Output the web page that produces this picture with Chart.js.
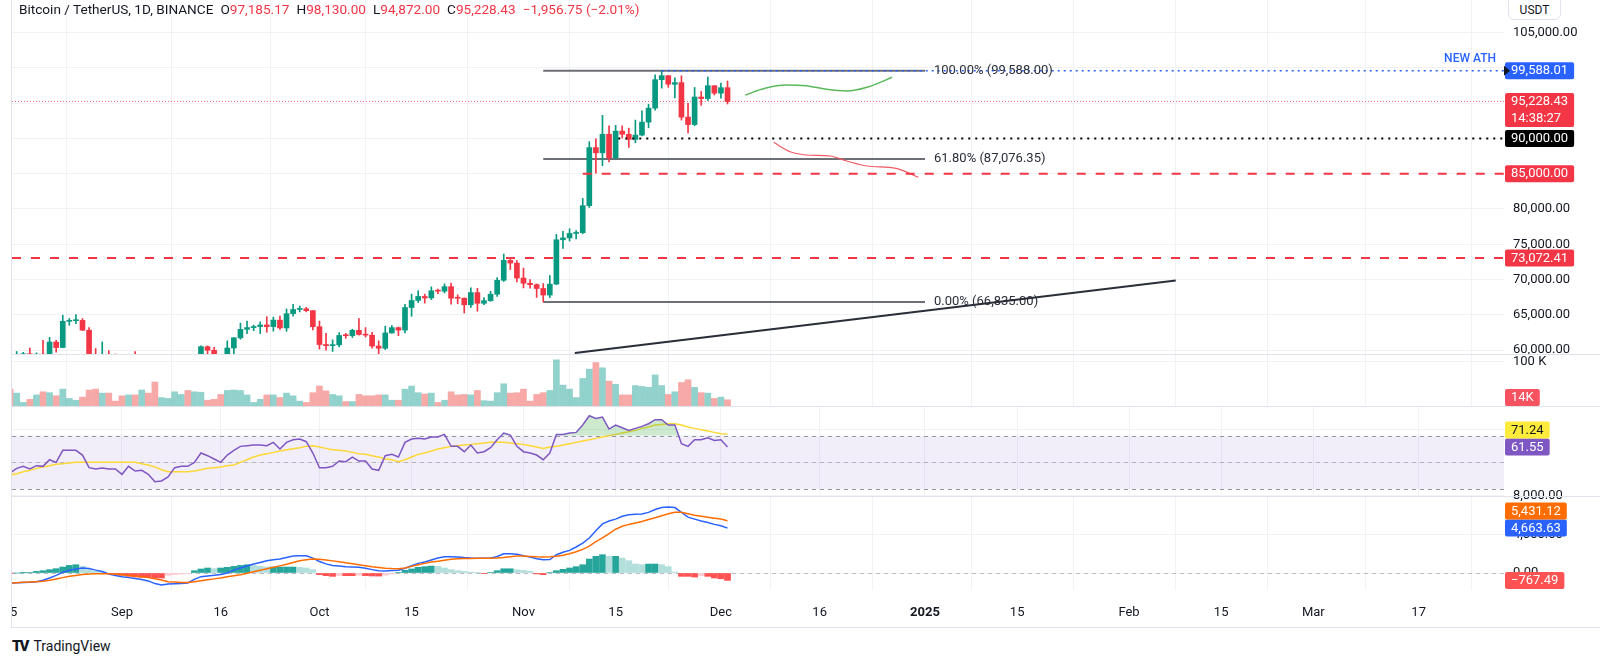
<!DOCTYPE html>
<html>
<head>
<meta charset="utf-8">
<title>BTCUSDT 1D</title>
<script src="https://cdn.jsdelivr.net/npm/chart.js@4.4.1/dist/chart.umd.min.js"></script>
<style>
  html, body { margin: 0; padding: 0; background: #fff; }
  body { position: relative; width: 1600px; height: 665px; overflow: hidden;
         font-family: Roboto, "Noto Sans", sans-serif; color: #131722; }
  canvas { position: absolute; left: 12px; }
  .sep { position: absolute; left: 12px; width: 1588px; height: 1px; background: #e0e3eb; z-index: 3; }
  #frame { position: absolute; left: 11px; top: 0; width: 1589px; height: 628px;
           border-left: 1px solid #e0e3eb; border-bottom: 1px solid #e0e3eb; box-sizing: border-box; }
  #header { position: absolute; left: 19px; top: 1px; font-size: 13.6px; line-height: 16px; white-space: nowrap; z-index: 5; }
  #header .v { color: #f23645; }
  #header span { margin-right: 7px; }
  #header span span { margin-right: 0; }
  #unit { position: absolute; left: 1508px; top: -1px; width: 53px; height: 21px; border: 1px solid #e0e3eb;
          border-radius: 0 0 6px 6px; font-size: 12px; line-height: 20px; text-align: center; background: #fff;
          z-index: 5; box-sizing: border-box; }
  #logo { position: absolute; left: 12px; top: 638px; font-size: 14px; line-height: 16px; display: flex; align-items: center; }
  #logo b { font-weight: 900; font-size: 15px; letter-spacing: -2px; margin-right: 6px; }
</style>
</head>
<body>
<div id="frame"></div>
<canvas id="priceCanvas" width="1588" height="354" style="top:0"></canvas>
<canvas id="volumeCanvas" width="1588" height="52" style="top:354px"></canvas>
<canvas id="rsiCanvas" width="1588" height="90" style="top:406px"></canvas>
<canvas id="macdCanvas" width="1588" height="141" style="top:486px"></canvas>
<div class="sep" style="top:354px"></div>
<div class="sep" style="top:406px"></div>
<div class="sep" style="top:496px"></div>
<div id="header"></div>
<div id="unit">USDT</div>
<div id="logo"><b>TV</b>TradingView</div>

<script>
// daily candles, 15 Aug 2024 .. 2 Dec 2024
const openPrices = [
  58683,57541,58874,59491,58427,59438,59013,61157,60381,64094,64178,64220,62834,59415,59034,59359,59123,
  58974,57301,59132,57487,57970,56180,53962,54160,54869,57042,57635,57338,58132,60498,59993,59132,58213,60309,61759,62947,
  63201,63348,63578,63339,64262,63152,65173,65769,65858,65602,
  63327,60804,60649,60752,62086,62058,62819,62224,62134,60582,60275,62445,63193,62851,66046,67041,67612,67399,68418,68362,
  69001,67367,67361,66432,68161,66642,67014,67930,69907,72720,72339,
  70216,69482,69289,68742,67811,69359,75640,75905,76538,76649,80475,88701,87955,90587,87250,91032,90587,89855,90465,92310,
  94286,98317,98892,97672,97901,93010,91965,95864,95644,97461,
  96407,97185.17
];
const highPrices = [
  59849,59817,59700,60284,59617,61400,61820,61400,64955,64494,65050,64481,63212,60235,61166,59944,59462,
  59076,59425,59809,58520,58327,57008,54850,55317,58088,58044,57981,58588,60625,60610,60395,59210,61320,61786,63850,64133,
  63559,64000,64745,64688,64817,65839,66498,66260,66076,65618,
  64130,62390,61470,62484,62370,62975,64478,63200,62543,61320,63417,63480,63285,66500,67950,68424,67939,68969,68668,69400,
  69500,67836,67425,68850,68772,67454,68332,70270,73620,72985,72700,
  71632,70000,69387,69433,70577,76400,76849,77199,76932,81500,89530,89956,93265,91765,91850,91779,91449,92594,93905,94831,
  98988,99588,98900,98564,98871,94973,97208,96650,98694,97463,
  97836,98130.00
];
const lowPrices = [
  56078,57098,58785,58408,57787,58548,58783,59724,60345,63531,63775,62800,58034,57860,58713,57700,58744,
  57201,57128,57415,55606,55643,52550,53745,53629,54591,56386,55545,57324,57632,59400,58692,57493,57610,59174,61555,62350,
  62758,62357,62538,62700,62947,62670,64819,65422,65432,62856,
  60164,60000,59828,60460,61689,61798,62128,61860,60300,58946,60088,62400,62050,62442,64800,66750,66666,67177,68020,68100,
  66518,66571,65260,66048,65521,66439,66913,67618,69730,71436,69685,
  68820,68788,67478,66835,67458,69298,74416,75466,75773,76492,80216,85072,86127,86668,87092,90057,88723,89376,90357,91500,
  94004,97122,97232,95734,92600,90791,91792,94677,95368,96150,
  95693,94872.00
];
const closePrices = [
  57541,58874,59491,58427,59438,59013,61157,60381,64094,64178,64220,62834,59415,59034,59359,59123,58974,
  57301,59132,57487,57970,56180,53962,54160,54869,57042,57635,57338,58132,60498,59993,59132,58213,60309,61759,62947,63201,
  63348,63578,63339,64262,63152,65173,65769,65858,65602,63327,
  60804,60649,60752,62086,62058,62819,62224,62134,60582,60275,62445,63193,62851,66046,67041,67612,67399,68418,68362,69001,
  67367,67361,66432,68161,66642,67014,67930,69907,72720,72339,70216,
  69482,69289,68742,67811,69359,75640,75905,76538,76649,80475,88701,87955,90587,87250,91032,90587,89855,90465,92310,94286,
  98317,98892,97672,97901,93010,91965,95864,95644,97461,96407,
  97185.18,95228.43
];
// volume in thousands of BTC
const volumes = [
  38,29,8,15,25,32,30,23,38,17,13,20,36,38,29,29,11,
  23,25,25,36,29,54,19,17,32,26,35,32,31,13,15,26,35,36,35,25,8,15,25,25,19,29,23,11,8,30,
  45,34,26,23,10,10,26,23,23,25,25,13,13,38,45,30,27,29,8,13,32,25,26,25,35,12,11,30,50,29,30,
  38,11,26,30,35,104,47,38,19,62,83,98,86,56,49,25,25,46,44,42,70,46,26,32,53,59,42,30,29,17,
  20,14
];
const rsiValues = [
  42,45.5,47,45,47.5,47,52,50,59,59,59,55.5,46,45,45.8,45,45,
  41,47,43.5,44,41,35.5,36,39,46,47,47,50,57,55,52.5,50,55.5,59,62,62.5,63,63,62.5,65,60,65,67,67.5,65.5,57,
  46,46,47,51,50.5,54,51,51,45,44,55,56,54,65,67.5,68,67.5,69,69,71,62,62,58,63,57,58,61,67,72,70.5,62,
  58,57,55.5,52,57,71,71,72,72.5,78,85,83,84,75,78,76,74,75.5,77,79,82,82,78,78,64,62,67,67,68.5,66.5,
  67,61.55
];
const rsiMaValues = [
  40.5,41.5,43,44,45.5,46.5,47.5,48.5,49,49.5,50,50,50,50,50,50,50,50,50,50,
  49,48,46.5,44.5,43,43,43,43,43.5,44.5,45.5,46,46.5,47.5,48,50,52,54,55.5,56.5,
  57.5,58.5,59.5,60.3,61,62,62.5,61.5,60.5,59.5,59,58.5,57.5,56.5,56,55,54,52.5,52,50.5,
  52,54,56,57,58.5,60,61,62,62.5,63,63.5,64,64.5,65,65,65,64.5,64,63.5,62.5,
  61.5,60.5,61.5,62,63,64,65,66,67,68,69,70,71,72,73,74,75.5,76.5,78,78.5,
  79,79,78,76.5,75.5,74.5,73.5,72.5,71.5,71.24
];
const macdValues = [
  -1037,-1010,-980,-950,-900,-750,-520,-250,60,280,420,510,470,300,150,-100,-250,-400,-480,-580,
  -680,-820,-1100,-1250,-1150,-1120,-1080,-1030,-660,-380,-300,-240,-150,0,300,520,720,930,1100,1280,
  1380,1450,1600,1760,1790,1780,1550,1200,950,780,730,660,630,590,500,350,230,210,250,280,
  500,760,1000,1150,1350,1550,1690,1680,1660,1600,1560,1540,1520,1530,1720,2000,2000,1950,1800,1650,
  1480,1380,1400,1900,2150,2350,2700,3100,3630,4400,5100,5400,5600,5900,6050,6100,6120,6300,6600,6810,
  6845,6800,6300,5800,5600,5400,5250,5050,4900,4663.63
];
const signalValues = [
  -1037,-1000,-965,-930,-900,-864,-760,-620,-480,-346,-250,-160,-110,-80,-70,-69,-120,-180,-250,-320,
  -380,-480,-590,-720,-900,-940,-980,-990,-900,-795,-700,-610,-519,-400,-290,-173,-30,130,290,440,
  590,740,900,1100,1280,1380,1450,1430,1350,1260,1160,1060,970,860,760,640,560,490,455,450,
  520,690,850,1000,1150,1220,1320,1420,1480,1500,1510,1520,1525,1530,1560,1620,1700,1760,1760,1720,
  1680,1660,1680,1730,1850,2000,2200,2450,2800,3250,3650,4100,4550,4850,5050,5200,5350,5550,5750,5950,
  6150,6320,6300,6150,6000,5900,5800,5700,5600,5431.12
];
const histValues = [
  -20,0,20,60,170,240,345,450,620,790,860,690,350,170,100,-50,-100,-240,-350,-415,
  -450,-480,-520,-520,-250,-170,-100,-40,240,415,520,450,520,590,690,790,860,790,690,620,
  620,620,620,620,580,520,350,-170,-280,-350,-280,-280,-280,-240,-280,-310,-320,-240,-100,60,
  280,420,590,660,720,690,520,350,240,170,100,40,-40,60,240,440,440,340,270,170,
  -100,-170,50,240,380,520,660,860,1450,1730,1900,1730,1730,1550,1280,930,860,930,930,860,
  660,100,-350,-350,-420,-280,-350,-520,-600,-767.49
];

// time scale: day 0 = 15 Aug 2024
const xTickDays = [0, 17, 32, 47, 61, 78, 92, 108, 123, 139, 153, 170, 184, 198, 214];
const xTickLabels = ['15', 'Sep', '16', 'Oct', '15', 'Nov', '15', 'Dec', '16', '2025', '15', 'Feb', '15', 'Mar', '17'];
const xMin = 0.29, xMax = 226.97;

const priceTicks = [60000, 65000, 70000, 75000, 80000, 85000, 90000, 95000, 100000, 105000];
const priceMin = 59462, priceMax = 109603;

// drawings
const athValue = 99588.01, athDay = 99;
const lastPrice = 95228.43, countdown = '14:38:27';
const supportValue = 90000, supportDay = 92.4;
const level85Value = 85000, level85Day = 87;
const level73Value = 73072.41;
const fibValues = [99588.00, 87076.35, 66835.00];
const fibPercents = ['100.00%', '61.80%', '0.00%'];
const fibStartDay = 81, fibEndDay = 139;
const trendDays = [85.8, 177.1];
const trendPrices = [59600, 69860];
const greenPathDays = [111.7, 114.7, 117.8, 120.9, 124, 127.1, 130.2, 134];
const greenPathPrices = [96147, 97096, 97564, 97465, 96955, 96714, 97238, 98654];
const redPathDays = [116, 118.5, 120.9, 124.6, 127.1, 130.2, 134.6, 138];
const redPathPrices = [89448, 88116, 87650, 87508, 86800, 86090, 85765, 84490];

const FONT = 'Roboto, "Noto Sans", sans-serif';
const UP = '#089981', DOWN = '#f23645';
const GRID = '#f1f2f5';
const MINUS = '\u2212';

const fmt2 = v => (v < 0 ? MINUS : '') + Math.abs(v).toLocaleString('en-US', { minimumFractionDigits: 2, maximumFractionDigits: 2 });
const days = closePrices.map((_, i) => i);
const last = days.length - 1;
const isUp = days.map(i => closePrices[i] >= openPrices[i]);

// header
const chg = closePrices[last] - closePrices[last - 1];
const pct = chg / closePrices[last - 1] * 100;
document.getElementById('header').innerHTML =
  '<span>Bitcoin / TetherUS, 1D, BINANCE</span>' +
  '<span>O<span class="v">' + fmt2(openPrices[last]) + '</span></span>' +
  '<span>H<span class="v">' + fmt2(highPrices[last]) + '</span></span>' +
  '<span>L<span class="v">' + fmt2(lowPrices[last]) + '</span></span>' +
  '<span>C<span class="v">' + fmt2(closePrices[last]) + '</span></span>' +
  '<span class="v">' + fmt2(chg) + ' (' + (pct < 0 ? MINUS : '') + Math.abs(pct).toFixed(2) + '%)</span>';

function xScaleOpts(showLabels) {
  return {
    type: 'linear', min: xMin, max: xMax, offset: false,
    afterBuildTicks: s => { s.ticks = xTickDays.map(v => ({ value: v })); },
    afterFit: s => { s.height = showLabels ? 37 : 0; s.paddingLeft = 0; s.paddingRight = 0; },
    grid: { color: GRID, drawTicks: false },
    border: { display: false },
    ticks: {
      display: showLabels, autoSkip: false, maxRotation: 0, padding: 15, color: '#131722',
      font: ctx => ({ family: FONT, size: 13, weight: ctx.tick && ctx.tick.label === '2025' ? 'bold' : 'normal' }),
      callback: (v, i) => xTickLabels[i]
    }
  };
}

function yScaleOpts(min, max, ticks, label) {
  return {
    position: 'right', min: min, max: max,
    afterBuildTicks: s => { s.ticks = ticks.map(v => ({ value: v })); },
    afterFit: s => { s.width = 96; s.paddingTop = 0; s.paddingBottom = 0; },
    grid: { color: GRID, drawTicks: false },
    border: { display: false },
    ticks: { autoSkip: false, padding: 9, color: '#131722', font: { family: FONT, size: 13 }, callback: label }
  };
}

function baseOptions(yOpts, showLabels, padTop) {
  return {
    responsive: false, animation: false, events: [], devicePixelRatio: 1,
    layout: { padding: { top: padTop || 0, left: 0, right: 0, bottom: 0 } },
    plugins: { legend: { display: false }, tooltip: { enabled: false } },
    scales: { x: xScaleOpts(showLabels), y: yOpts }
  };
}

// coloured value labels on the right scale
function tagPlugin(tags) {
  return {
    id: 'tags',
    afterDraw(chart) {
      const { ctx, chartArea, scales: { y } } = chart;
      const lineH = 17;
      ctx.save();
      ctx.font = '13px ' + FONT;
      const boxes = tags.map(t => {
        const h = t.sub ? lineH * 2 : lineH;
        return Object.assign({}, t, { top: y.getPixelForValue(t.value) - lineH / 2, h: h, w: ctx.measureText(t.text).width + 12 });
      }).sort((a, b) => b.top - a.top);
      boxes.forEach((b, k) => {
        b.top = Math.min(b.top, chart.height - b.h);
        if (k > 0 && b.top + b.h > boxes[k - 1].top) b.top = boxes[k - 1].top - b.h;
      });
      ctx.textBaseline = 'middle';
      ctx.textAlign = 'left';
      boxes.forEach(b => {
        const left = chartArea.right + 1;
        ctx.fillStyle = b.bg;
        ctx.beginPath();
        ctx.roundRect(left, b.top, b.w, b.h, 2);
        ctx.fill();
        ctx.fillStyle = b.fg;
        ctx.fillText(b.text, left + 6, b.top + lineH / 2 + 0.5);
        if (b.sub) ctx.fillText(b.sub, left + 6, b.top + lineH * 1.5 + 0.5);
        if (b.arrow) {
          const cy = b.top + lineH / 2;
          ctx.fillStyle = '#131722';
          ctx.beginPath();
          ctx.moveTo(left - 1, cy - 5); ctx.lineTo(left + 5, cy); ctx.lineTo(left - 1, cy + 5);
          ctx.closePath(); ctx.fill();
        }
      });
      ctx.restore();
    }
  };
}

// horizontal guide lines drawn under the series
function guidePlugin(lines, band) {
  return {
    id: 'guides',
    beforeDatasetsDraw(chart) {
      const { ctx, chartArea: a, scales: { y } } = chart;
      ctx.save();
      if (band) {
        const t = y.getPixelForValue(band[0]), b = y.getPixelForValue(band[1]);
        ctx.fillStyle = 'rgba(126,87,194,0.1)';
        ctx.fillRect(a.left, t, a.right - a.left, b - t);
      }
      ctx.lineWidth = 1;
      lines.forEach(([v, c]) => {
        const py = Math.round(y.getPixelForValue(v)) + 0.5;
        ctx.setLineDash([4, 4]);
        ctx.strokeStyle = c;
        ctx.beginPath(); ctx.moveTo(a.left, py); ctx.lineTo(a.right, py); ctx.stroke();
      });
      ctx.restore();
    }
  };
}

function lineSet(xs, ys, color, width, dash, extra) {
  return Object.assign({
    type: 'line',
    data: xs.map((x, k) => ({ x: x, y: ys[k] })),
    borderColor: color, borderWidth: width, borderDash: dash || [],
    pointRadius: 0, fill: false, clip: 0, order: 0
  }, extra || {});
}

// ---- price pane
const candleColors = days.map(i => isUp[i] ? UP : DOWN);
const priceTags = [
  { value: athValue, text: fmt2(athValue), bg: '#2962ff', fg: '#fff', arrow: true },
  { value: lastPrice, text: fmt2(lastPrice), sub: countdown, bg: '#f23645', fg: '#fff' },
  { value: supportValue, text: fmt2(supportValue), bg: '#000', fg: '#fff' },
  { value: level85Value, text: fmt2(level85Value), bg: '#f23645', fg: '#fff' },
  { value: level73Value, text: fmt2(level73Value), bg: '#f23645', fg: '#fff' }
];
const tagVals = priceTags.map(t => t.value);

const priceDecor = {
  id: 'priceDecor',
  afterDatasetsDraw(chart) {
    const { ctx, chartArea, scales: { x, y } } = chart;
    ctx.save();
    ctx.font = '13px ' + FONT;
    ctx.fillStyle = '#2a2e39';
    ctx.textBaseline = 'middle';
    ctx.textAlign = 'left';
    fibValues.forEach((v, k) => {
      ctx.fillText(fibPercents[k] + ' (' + fmt2(v) + ')', x.getPixelForValue(fibEndDay) + 9, y.getPixelForValue(v));
    });
    ctx.font = '500 12px ' + FONT;
    ctx.fillStyle = '#2962ff';
    ctx.textAlign = 'right';
    ctx.fillText('NEW ATH', chartArea.right - 8, y.getPixelForValue(athValue) - 12);
    ctx.restore();
  }
};

const priceOptions = baseOptions(
  yScaleOpts(priceMin, priceMax, priceTicks, v => tagVals.some(t => Math.abs(t - v) < 1700) ? '' : fmt2(v)),
  false
);

new Chart(document.getElementById('priceCanvas'), {
  type: 'bar',
  data: {
    datasets: [
      lineSet([fibStartDay, fibEndDay], [fibValues[0], fibValues[0]], 'rgba(60,63,72,0.75)', 2, [], { order: 3 }),
      lineSet([fibStartDay, fibEndDay], [fibValues[1], fibValues[1]], 'rgba(60,63,72,0.75)', 2, [], { order: 3 }),
      lineSet([fibStartDay, fibEndDay], [fibValues[2], fibValues[2]], 'rgba(60,63,72,0.75)', 2, [], { order: 3 }),
      lineSet([xMin, xMax], [lastPrice, lastPrice], 'rgba(242,54,69,0.7)', 1, [1, 2], { order: 4 }),
      lineSet([xMin, xMax], [level73Value, level73Value], '#f23645', 2, [9, 10]),
      lineSet([level85Day, xMax], [level85Value, level85Value], '#f23645', 2, [9, 10]),
      lineSet([supportDay, xMax], [supportValue, supportValue], '#000000', 2, [2, 5]),
      lineSet([athDay, xMax], [athValue, athValue], '#2962ff', 1.5, [2, 4]),
      lineSet(trendDays, trendPrices, '#2a2e39', 2),
      lineSet(greenPathDays, greenPathPrices, '#5cb85c', 1.5, [], { tension: 0.4, cubicInterpolationMode: 'monotone' }),
      lineSet(redPathDays, redPathPrices, '#f05a66', 1.2, [], { tension: 0.4, cubicInterpolationMode: 'monotone' }),
      {
        type: 'bar', data: days.map(i => ({ x: i, y: [lowPrices[i], highPrices[i]] })),
        backgroundColor: candleColors, barThickness: 1, grouped: false, clip: 0, order: 2
      },
      {
        type: 'bar', data: days.map(i => ({ x: i, y: [openPrices[i], closePrices[i]] })),
        backgroundColor: candleColors, barThickness: 5, minBarLength: 1, grouped: false, clip: 0, order: 1
      }
    ]
  },
  options: priceOptions,
  plugins: [priceDecor, tagPlugin(priceTags)]
});

// ---- volume pane
new Chart(document.getElementById('volumeCanvas'), {
  type: 'bar',
  data: {
    datasets: [{
      data: days.map(i => ({ x: i, y: volumes[i] })),
      backgroundColor: days.map(i => isUp[i] ? 'rgba(38,166,154,0.5)' : 'rgba(239,83,80,0.5)'),
      barThickness: 6, grouped: false, clip: 0
    }]
  },
  options: baseOptions(yScaleOpts(0, 117.1, [100], v => v + ' K'), false),
  plugins: [tagPlugin([{ value: volumes[last], text: volumes[last] + 'K', bg: '#f7525f', fg: '#fff' }])]
});

// ---- RSI pane
const rsiUpper = 70, rsiMid = 50, rsiLower = 30;
new Chart(document.getElementById('rsiCanvas'), {
  type: 'line',
  data: {
    datasets: [
      lineSet(days, rsiMaValues, '#fdd835', 1.5, [], { order: 1 }),
      lineSet(days, rsiValues, '#7e57c2', 1.5, [], {
        fill: { target: { value: rsiUpper }, above: 'rgba(76,175,80,0.28)', below: 'rgba(0,0,0,0)' }
      })
    ]
  },
  options: baseOptions(yScaleOpts(24.75, 92.3, [25, 50, 75], () => ''), false),
  plugins: [
    guidePlugin([[rsiUpper, '#9598a1'], [rsiMid, 'rgba(120,123,134,0.45)'], [rsiLower, '#9598a1']], [rsiUpper, rsiLower]),
    tagPlugin([
      { value: rsiMaValues[last], text: rsiMaValues[last].toFixed(2), bg: '#ffeb3b', fg: '#131722' },
      { value: rsiValues[last], text: rsiValues[last].toFixed(2), bg: '#7e57c2', fg: '#fff' }
    ])
  ]
});

// ---- MACD pane
const histColors = days.map(i => {
  const v = histValues[i], p = i > 0 ? histValues[i - 1] : 0;
  if (v >= 0) return v >= p ? '#26a69a' : '#b2dfdb';
  return v <= p ? '#ff5252' : '#ffcdd2';
});
new Chart(document.getElementById('macdCanvas'), {
  type: 'bar',
  data: {
    datasets: [
      lineSet(days, signalValues, '#ff6d00', 1.5),
      lineSet(days, macdValues, '#2962ff', 1.5),
      {
        type: 'bar', data: days.map(i => ({ x: i, y: histValues[i] })),
        backgroundColor: histColors, barThickness: 6, grouped: false, clip: 0, order: 2
      }
    ]
  },
  options: baseOptions(yScaleOpts(-1766, 8000, [0, 4000, 8000], v => fmt2(v)), true, 10),
  plugins: [
    guidePlugin([[0, 'rgba(120,123,134,0.45)']]),
    tagPlugin([
      { value: signalValues[last], text: fmt2(signalValues[last]), bg: '#ff6d00', fg: '#fff' },
      { value: macdValues[last], text: fmt2(macdValues[last]), bg: '#2962ff', fg: '#fff' },
      { value: histValues[last], text: fmt2(histValues[last]), bg: '#ff5252', fg: '#fff' }
    ])
  ]
});
</script>
</body>
</html>
